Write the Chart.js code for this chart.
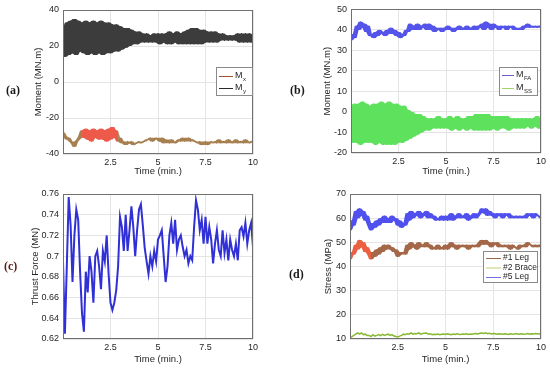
<!DOCTYPE html>
<html>
<head>
<meta charset="utf-8">
<script src="https://cdn.jsdelivr.net/npm/chart.js@4.4.0/dist/chart.umd.min.js"></script>
<style>
  body { margin: 0; background: #fff; }
  #wrap { position: relative; width: 550px; height: 368px; background: #fff; }
  canvas { position: absolute; }
  .tag { position: absolute; font: bold 12px "Liberation Serif", "Times New Roman", serif; line-height: 12px; color: #1a1a1a; }
</style>
</head>
<body>
<div id="wrap">
  <canvas id="ca" width="275" height="184" style="left:0;top:0"></canvas>
  <canvas id="cb" width="275" height="184" style="left:275px;top:0"></canvas>
  <canvas id="cc" width="275" height="184" style="left:0;top:184px"></canvas>
  <canvas id="cd" width="275" height="184" style="left:275px;top:184px"></canvas>
  <div class="tag" style="left:6px;top:84px">(a)</div>
  <div class="tag" style="left:290px;top:84px">(b)</div>
  <div class="tag" style="left:4px;top:260px;color:#5a1c1c">(c)</div>
  <div class="tag" style="left:289px;top:268px">(d)</div>
</div>
<script>
// time axis (min.)
var TIME = [0,0.1,0.2,0.3,0.4,0.5,0.6,0.7,0.8,0.9,1,1.1,1.2,1.3,1.4,1.5,1.6,1.7,1.8,1.9,2,2.1,2.2,2.3,2.4,2.5,2.6,2.7,2.8,2.9,3,3.1,3.2,3.3,3.4,3.5,3.6,3.7,3.8,3.9,4,4.1,4.2,4.3,4.4,4.5,4.6,4.7,4.8,4.9,5,5.1,5.2,5.3,5.4,5.5,5.6,5.7,5.8,5.9,6,6.1,6.2,6.3,6.4,6.5,6.6,6.7,6.8,6.9,7,7.1,7.2,7.3,7.4,7.5,7.6,7.7,7.8,7.9,8,8.1,8.2,8.3,8.4,8.5,8.6,8.7,8.8,8.9,9,9.1,9.2,9.3,9.4,9.5,9.6,9.7,9.8,9.9,10];
var X_TICKS = [2.5, 5, 7.5, 10];

// (a) moments, MN.m
var M_X = [-28,-30,-32,-31,-33,-34,-36,-33,-32,-30,
  -27,-31,-26,-32,-27,-33,-26,-31,-27,-32,
  -26,-32,-27,-33,-26,-32,-25,-31,-27,-33,
  -31,-34,-33,-35,-33,-34,-33,-35,-34,-34,
  -33,-34,-33,-33,-32,-32,-31,-33,-32,-31,
  -32,-33,-31,-34,-32,-33,-34,-32,-33,-34,
  -33,-32,-33,-31,-33,-32,-31,-33,-32,-33,
  -33,-34,-33,-35,-34,-33,-35,-34,-33,-34,
  -33,-34,-32,-34,-33,-33,-34,-32,-33,-34,
  -33,-32,-34,-33,-33,-34,-32,-33,-34,-33,-33];
var M_Y = [30,14,33,15,34,16,35,15,34,17,
  33,16,34,15,33,16,34,15,33,16,
  34,15,33,16,33,16,32,17,32,17,
  31,18,30,19,30,20,29,21,28,21,
  28,22,27,22,27,22,26,22,27,22,
  27,21,27,22,27,21,28,21,27,22,
  28,21,27,21,28,21,29,21,30,21,
  30,21,29,21,29,22,28,22,28,22,
  28,22,27,23,27,23,26,23,26,23,
  26,23,27,22,27,22,27,22,27,22,26];

// (b) moments, MN.m
var M_FA = [35,38,36,42,40,44,41,43,39,42,
  37,38,36,39,37,40,38,39,37,40,
  38,41,38,40,37,39,36,38,37,40,
  39,43,40,42,40,43,40,42,41,43,
  40,43,40,42,39,41,40,41,39,41,
  40,42,40,41,39,41,40,42,41,40,
  41,42,40,41,40,42,40,42,41,43,
  40,44,41,43,40,43,41,42,40,42,
  41,42,40,42,41,42,40,41,40,41,
  40,42,41,43,41,42,41,42,41,42,41];
var M_SS = [3,-15,4,-15,4,-16,5,-15,4,-15,
  3,-15,4,-16,4,-15,5,-16,4,-16,
  5,-16,4,-16,4,-15,3,-15,3,-14,
  1,-13,0,-12,-1,-11,-1,-10,-2,-9,
  -3,-9,-3,-8,-3,-8,-2,-8,-3,-8,
  -3,-8,-2,-9,-3,-8,-2,-9,-3,-8,
  -3,-9,-2,-8,-2,-9,-1,-9,-1,-9,
  -1,-9,-1,-9,-2,-8,-2,-9,-2,-8,
  -2,-8,-2,-9,-3,-8,-3,-8,-3,-8,
  -3,-8,-3,-7,-3,-8,-3,-7,-2,-8,-4];

// (c) thrust force, MN
var THRUST = [0.695,0.625,0.69,0.757,0.73,0.675,0.72,0.745,0.735,0.685,
  0.645,0.627,0.685,0.665,0.70,0.685,0.655,0.70,0.705,0.69,
  0.668,0.705,0.695,0.72,0.683,0.655,0.648,0.655,0.667,0.69,
  0.738,0.728,0.705,0.74,0.705,0.725,0.748,0.728,0.70,0.725,
  0.745,0.75,0.73,0.708,0.695,0.683,0.70,0.69,0.705,0.695,
  0.716,0.72,0.725,0.70,0.675,0.69,0.72,0.732,0.712,0.735,
  0.706,0.716,0.72,0.709,0.70,0.706,0.693,0.70,0.696,0.728,
  0.754,0.745,0.725,0.735,0.712,0.738,0.712,0.728,0.716,0.693,
  0.712,0.725,0.706,0.70,0.725,0.703,0.716,0.696,0.716,0.706,
  0.70,0.712,0.696,0.725,0.728,0.719,0.732,0.712,0.725,0.732,0.709];

// (d) stress, MPa
var LEG_1 = [43,46,45,49,47,51,48,50,46,48,
  45,43,46,44,47,45,48,46,49,47,
  49,47,48,46,47,44,46,45,46,45,
  49,47,50,48,49,47,50,48,49,48,
  50,48,49,47,48,47,49,47,48,47,
  49,47,48,50,48,49,47,49,48,49,
  48,49,47,48,49,48,49,48,50,51,
  49,51,49,50,48,50,49,50,48,49,
  48,49,48,49,47,49,48,48,47,49,
  48,49,48,50,49,49,48,49,48,49,48];
var BRACE_2 = [10.5,11,11.5,12,12.5,12,12.5,11.8,12,11.5,
  11.5,11,11.8,11.2,11.5,11.8,11.4,11.9,11.5,11.8,
  12,11.5,11.8,11.2,11,10.8,11.2,11.5,12,11.8,
  12.2,12,12.5,12,12.3,12.2,12.5,12,12.3,12.4,
  12.5,12,12.2,11.8,12,11.9,12.1,11.8,12,12.1,
  11.9,12.2,12,11.8,12.1,11.9,12.2,12,11.9,12.1,
  12,12.2,11.9,12.1,12,12.2,12.3,12.1,12.4,12.5,
  12.3,12.6,12.2,12.4,12.1,12.3,12.2,12,12.2,12.1,
  12,12.2,12.1,11.9,12.2,12,12.1,12.3,12,12.1,
  12.2,12,12.1,12.3,12,12.2,12.1,12.3,12.2,12.1,12.2];
var LEG_5 = [55,59,57,63,60,64,61,63,59,61,
  57,55,58,56,59,57,60,58,61,58,
  60,58,61,59,60,57,59,56,58,57,
  62,59,63,60,62,61,63,60,62,61,
  63,60,62,60,61,59,60,59,61,59,
  61,59,60,62,59,61,60,62,60,61,
  60,62,59,61,60,62,60,61,62,64,
  62,64,61,63,61,62,60,62,61,62,
  60,62,61,62,60,61,60,61,60,61,
  60,61,60,62,61,62,60,62,61,61,60];

Chart.defaults.font.family = '"Liberation Sans", Arial, sans-serif';
Chart.defaults.font.size = 9;
Chart.defaults.color = '#262626';

function pts(arr) {
  return TIME.map(function (t, i) { return { x: t, y: arr[i] }; });
}

// local max / min of neighbouring samples, used to shade the oscillation band
function envelope(arr, up) {
  var f = up ? Math.max : Math.min, n = arr.length;
  return arr.map(function (v, i) { return f(arr[Math.max(i - 1, 0)], v, arr[Math.min(i + 1, n - 1)]); });
}

function band(label, arr, line, shade, opts) {
  opts = opts || {};
  var up = { label: label + ' hi', data: pts(envelope(arr, true)), borderWidth: 0, borderColor: 'transparent',
    backgroundColor: shade, fill: '+1' };
  var lo = { label: label + ' lo', data: pts(envelope(arr, false)), borderWidth: 0, borderColor: 'transparent', fill: false };
  var main = { label: label, data: pts(arr), borderColor: line, borderWidth: opts.width || 1 };
  if (opts.red) {
    up.segment = { backgroundColor: redBetween(opts.red[0], opts.red[1], opts.red[2]) };
    main.segment = { borderColor: redBetween(opts.red[0], opts.red[1], opts.red[3]) };
  }
  return [up, lo, main];
}

function redBetween(a, b, col) {
  return function (c) { return (c.p0.parsed.x >= a && c.p1.parsed.x <= b) ? col : undefined; };
}

// box around the axes, like matlab "box on"
var frame = {
  id: 'frame',
  afterDraw: function (chart) {
    var a = chart.chartArea, ctx = chart.ctx;
    ctx.save();
    ctx.strokeStyle = '#707070';
    ctx.lineWidth = 1;
    ctx.strokeRect(Math.round(a.left) + 0.5, Math.round(a.top) + 0.5,
      Math.round(a.width) - 1, Math.round(a.height) - 1);
    ctx.restore();
  }
};

// legend box drawn inside the axes
var boxLegend = {
  id: 'boxLegend',
  afterDraw: function (chart, args, o) {
    if (!o.items) return;
    var ctx = chart.ctx;
    ctx.save();
    ctx.fillStyle = '#fff';
    ctx.fillRect(o.x, o.y, o.w, o.h);
    ctx.strokeStyle = '#8a8a8a';
    ctx.lineWidth = 1;
    ctx.strokeRect(o.x + 0.5, o.y + 0.5, o.w, o.h);
    for (var i = 0; i < o.items.length; i++) {
      var it = o.items[i];
      var y = o.y + o.first + i * o.gap;
      ctx.strokeStyle = it.color;
      ctx.beginPath();
      ctx.moveTo(o.x + 3, y + 0.5);
      ctx.lineTo(o.x + 3 + o.line, y + 0.5);
      ctx.stroke();
      ctx.fillStyle = '#262626';
      ctx.textBaseline = 'middle';
      ctx.font = o.size + 'px "Liberation Sans", Arial, sans-serif';
      var tx = o.x + 5 + o.line;
      ctx.fillText(it.text, tx, y);
      if (it.sub) {
        var w = ctx.measureText(it.text).width;
        ctx.font = '6px "Liberation Sans", Arial, sans-serif';
        ctx.fillText(it.sub, tx + w + 0.5, y + 3);
      }
    }
    ctx.restore();
  }
};

function panel(id, p) {
  return new Chart(document.getElementById(id), {
    type: 'line',
    data: { datasets: p.datasets },
    plugins: [frame, boxLegend],
    options: {
      responsive: false,
      animation: false,
      layout: { padding: p.pad },
      elements: { point: { radius: 0 }, line: { borderWidth: 1, tension: 0 } },
      plugins: { legend: { display: false }, tooltip: { enabled: false }, boxLegend: p.legend },
      scales: {
        x: {
          type: 'linear', min: 0, max: 10,
          afterBuildTicks: function (s) { s.ticks = [0].concat(X_TICKS).map(function (v) { return { value: v }; }); },
          ticks: { padding: 3, maxRotation: 0, callback: function (v) { return v === 0 ? '' : v; } },
          grid: { color: '#e4e4e4', drawTicks: false },
          border: { display: false },
          title: { display: true, text: 'Time (min.)', font: { size: 9.5 }, padding: { top: 2, bottom: p.xTitlePad } },
          afterFit: function (s) { s.height = p.xHeight; }
        },
        y: {
          min: p.yMin, max: p.yMax,
          ticks: { stepSize: p.yStep, padding: 4, callback: function (v) { return +v.toFixed(2); } },
          grid: { color: '#e4e4e4', drawTicks: false },
          border: { display: false },
          title: { display: true, text: p.yTitle, font: { size: 9.5 }, padding: { top: 4, bottom: 2 } },
          afterFit: function (s) { s.width = p.yWidth; }
        }
      }
    }
  });
}

// (a)
panel('ca', {
  datasets: band('Mx', M_X, '#7c5626', '#a88050', { red: [1.0, 2.9, '#ee5a4a', '#d22a22'] })
    .concat(band('My', M_Y, '#111111', '#3c3c3c')),
  yMin: -40, yMax: 40, yStep: 20, yTitle: 'Moment (MN.m)',
  pad: { left: 29, right: 22, top: 10, bottom: 3 }, yWidth: 34, xHeight: 27, xTitlePad: 4,
  legend: { x: 216, y: 67, w: 36, h: 28, first: 9, gap: 12, line: 14, size: 9,
    items: [{ text: 'M', sub: 'x', color: '#a0522d' }, { text: 'M', sub: 'y', color: '#2a2a2a' }] }
});

// (b)
panel('cb', {
  datasets: band('MFA', M_FA, '#2424cf', '#5454ea')
    .concat(band('MSS', M_SS, '#22c422', '#5ee25e')),
  yMin: -20, yMax: 50, yStep: 10, yTitle: 'Moment (MN.m)',
  pad: { left: 43, right: 9, top: 9, bottom: 3 }, yWidth: 33, xHeight: 28, xTitlePad: 4,
  legend: { x: 224, y: 67, w: 38, h: 28, first: 8, gap: 13, line: 12, size: 9,
    items: [{ text: 'M', sub: 'FA', color: '#6b5fd0' }, { text: 'M', sub: 'SS', color: '#9ed66a' }] }
});

// (c)
panel('cc', {
  datasets: [{ label: 'Thrust', data: pts(THRUST), borderColor: '#3030d6', borderWidth: 2 }],
  yMin: 0.62, yMax: 0.76, yStep: 0.02, yTitle: 'Thrust Force (MN)',
  pad: { left: 26, right: 22, top: 10, bottom: 1 }, yWidth: 37, xHeight: 28, xTitlePad: 2,
  legend: {}
});

// (d)
panel('cd', {
  datasets: band('#1 Leg', LEG_1, '#7a4424', '#a46848', { red: [0, 1.1, '#ea6040', '#d0402a'] })
    .concat([{ label: '#2 Brace', data: pts(BRACE_2), borderColor: '#86b830', borderWidth: 1.5 }])
    .concat(band('#5 Leg', LEG_5, '#2626d6', '#5050ee')),
  yMin: 10, yMax: 70, yStep: 10, yTitle: 'Stress (MPa)',
  pad: { left: 44, right: 9, top: 10, bottom: 1 }, yWidth: 31, xHeight: 28, xTitlePad: 2,
  legend: { x: 208, y: 67, w: 54, h: 31, first: 7, gap: 9.5, line: 15, size: 8.5,
    items: [{ text: '#1 Leg', color: '#9a6a4a' }, { text: '#2 Brace', color: '#b8d070' }, { text: '#5 Leg', color: '#7070e0' }] }
});
</script>
</body>
</html>
